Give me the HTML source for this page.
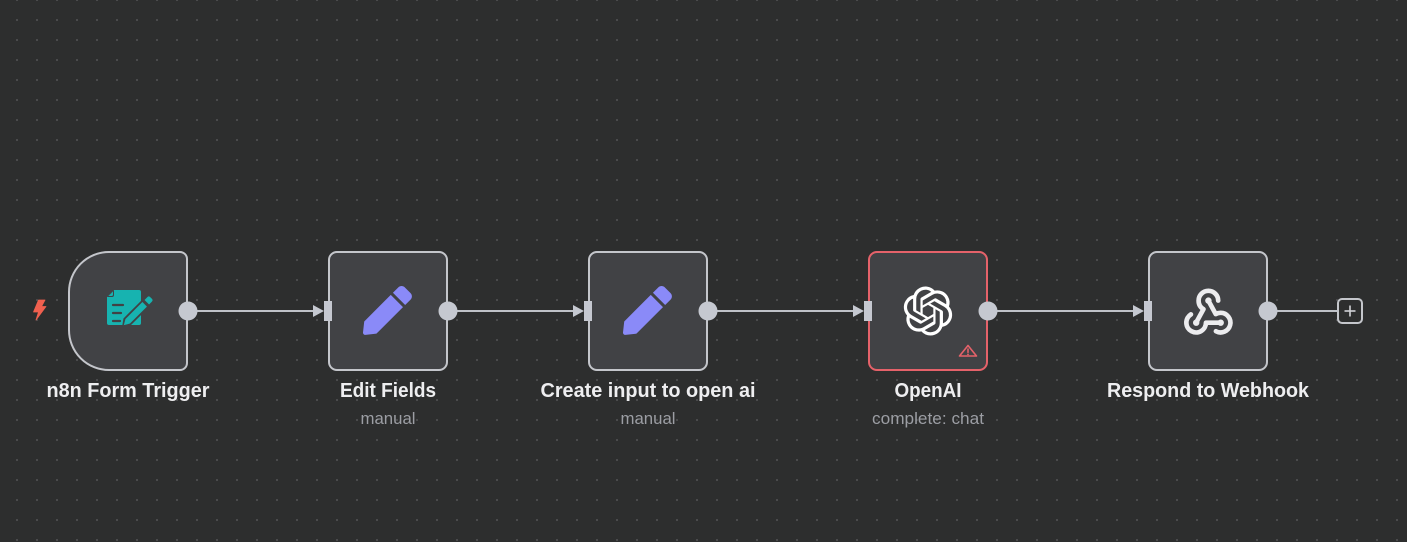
<!DOCTYPE html>
<html>
<head>
<meta charset="utf-8">
<style>
  html,body{margin:0;padding:0;background:#2d2e2e;}
  body{width:1407px;height:542px;overflow:hidden;}
  svg{display:block;}
  .t{font-family:"Liberation Sans",Arial,sans-serif;font-weight:bold;font-size:20px;fill:#eeeef0;}
  .s{font-family:"Liberation Sans",Arial,sans-serif;font-size:16.5px;fill:#9c9ea4;}
</style>
</head>
<body>
<svg width="1407" height="542" viewBox="0 0 1407 542" xmlns="http://www.w3.org/2000/svg">
  <defs>
    <pattern id="dots" x="7" y="-10" width="20" height="20" patternUnits="userSpaceOnUse">
      <circle cx="10" cy="10" r="0.9" fill="#5e5f61"/>
    </pattern>
  </defs>
  <rect width="1407" height="542" fill="#2d2e2e"/>
  <rect width="1407" height="542" fill="url(#dots)"/>

  <!-- connections -->
  <g stroke="#bfc2c8" stroke-width="2" fill="none">
    <line x1="188" y1="311" x2="315" y2="311"/>
    <line x1="448" y1="311" x2="575" y2="311"/>
    <line x1="708" y1="311" x2="855" y2="311"/>
    <line x1="988" y1="311" x2="1135" y2="311"/>
    <line x1="1268" y1="311" x2="1337" y2="311"/>
  </g>
  <g fill="#c5c8d0">
    <polygon points="313,305 324,311 313,317"/>
    <polygon points="573,305 584,311 573,317"/>
    <polygon points="853,305 864,311 853,317"/>
    <polygon points="1133,305 1144,311 1133,317"/>
  </g>

  <!-- nodes -->
  <path d="M109,252 H180 a7,7 0 0 1 7,7 V363 a7,7 0 0 1 -7,7 H109 a40,40 0 0 1 -40,-40 V292 a40,40 0 0 1 40,-40 Z" fill="#414245" stroke="#c4c6cb" stroke-width="2"/>
  <rect x="329" y="252" width="118" height="118" rx="8" fill="#414245" stroke="#c4c6cb" stroke-width="2"/>
  <rect x="589" y="252" width="118" height="118" rx="8" fill="#414245" stroke="#c4c6cb" stroke-width="2"/>
  <rect x="869" y="252" width="118" height="118" rx="8" fill="#414245" stroke="#e5626a" stroke-width="2"/>
  <rect x="1149" y="252" width="118" height="118" rx="8" fill="#414245" stroke="#c4c6cb" stroke-width="2"/>

  <!-- input handles -->
  <g fill="#c5c8d0">
    <rect x="324" y="301" width="8" height="20"/>
    <rect x="584" y="301" width="8" height="20"/>
    <rect x="864" y="301" width="8" height="20"/>
    <rect x="1144" y="301" width="8" height="20"/>
  </g>
  <!-- output handles -->
  <g fill="#c5c8d0">
    <circle cx="188" cy="311" r="9.5"/>
    <circle cx="448" cy="311" r="9.5"/>
    <circle cx="708" cy="311" r="9.5"/>
    <circle cx="988" cy="311" r="9.5"/>
    <circle cx="1268" cy="311" r="9.5"/>
  </g>

  <!-- plus button -->
  <rect x="1338" y="299" width="24" height="24" rx="4" fill="#2d2e2e" stroke="#c4c6cb" stroke-width="2"/>
  <line x1="1344.5" y1="311" x2="1355.5" y2="311" stroke="#d0d2d6" stroke-width="1.6"/>
  <line x1="1350" y1="305.5" x2="1350" y2="316.5" stroke="#d0d2d6" stroke-width="1.6"/>

  <!-- lightning -->
  <path d="M38.5,300 H45 L41.5,306.5 H46 L36,320 L38.5,312 H33.5 Z" fill="#f0604f" stroke="#f0604f" stroke-width="0.8" stroke-linejoin="round"/>

  <!-- form icon -->
  <g>
    <path d="M114,290 H139 a2,2 0 0 1 2,2 V323 a2,2 0 0 1 -2,2 H109 a2,2 0 0 1 -2,-2 V297 Z" fill="#17b3b0"/>
    <path d="M107,297 L114,290 V295 a2,2 0 0 1 -2,2 Z" fill="#414245"/>
    <path d="M108.5,296 L113,291.5 V294.5 a1.5,1.5 0 0 1 -1.5,1.5 Z" fill="#17b3b0"/>
    <g stroke="#414245" stroke-width="2.2" stroke-linecap="round">
      <line x1="113" y1="305" x2="123" y2="305"/>
      <line x1="113" y1="313" x2="121" y2="313"/>
      <line x1="113" y1="321" x2="120" y2="321"/>
    </g>
    <g transform="translate(127,322) rotate(-45)">
      <path d="M0,-5 H33 a3,3 0 0 1 3,3 V2 a3,3 0 0 1 -3,3 H0 L-7,0 Z" fill="#414245"/>
      <path d="M1,-3.2 H25 V3.2 H1 L-4.5,0 Z" fill="#17b3b0"/>
      <path d="M28,-3.2 H32 a2,2 0 0 1 2,2 V1.2 a2,2 0 0 1 -2,2 H28 Z" fill="#17b3b0"/>
    </g>
  </g>

  <!-- pencil icons -->
  <path transform="translate(363,286) scale(0.0955)" fill="#8a8af8" d="M290.74 93.24l128.02 128.02-277.99 277.99-114.14 12.6C11.35 513.54-1.56 500.62.14 485.34l12.7-114.22 277.9-277.88zm207.2-19.06l-60.11-60.11c-18.750-18.75-49.16-18.75-67.91 0l-56.55 56.55 128.02 128.02 56.55-56.55c18.75-18.76 18.75-49.160 0-67.91z"/>
  <path transform="translate(623,286) scale(0.0955)" fill="#8a8af8" d="M290.74 93.24l128.02 128.02-277.99 277.99-114.14 12.6C11.35 513.54-1.56 500.62.14 485.34l12.7-114.22 277.9-277.88zm207.2-19.06l-60.11-60.11c-18.75-18.75-49.16-18.75-67.91 0l-56.55 56.55 128.02 128.02 56.55-56.55c18.75-18.76 18.75-49.16 0-67.91z"/>

  <!-- OpenAI logo -->
  <path transform="translate(903.5,286.5) scale(2.04)" fill="#ffffff" d="M22.2819 9.8211a5.9847 5.9847 0 0 0-.5157-4.9108 6.0462 6.0462 0 0 0-6.5098-2.9A6.0651 6.0651 0 0 0 4.9807 4.1818a5.9847 5.9847 0 0 0-3.9977 2.9 6.0462 6.0462 0 0 0 .7427 7.0966 5.98 5.98 0 0 0 .511 4.9107 6.051 6.051 0 0 0 6.5146 2.9001A5.9847 5.9847 0 0 0 13.2599 24a6.0557 6.0557 0 0 0 5.7718-4.2058 5.9894 5.9894 0 0 0 3.9977-2.9001 6.0557 6.0557 0 0 0-.7475-7.0729zm-9.022 12.6081a4.4755 4.4755 0 0 1-2.8764-1.0408l.1419-.0804 4.7783-2.7582a.7948.7948 0 0 0 .3927-.6813v-6.7369l2.02 1.1686a.071.071 0 0 1 .038.052v5.5826a4.504 4.504 0 0 1-4.4945 4.4944zm-9.6607-4.1254a4.4708 4.4708 0 0 1-.5346-3.0137l.142.0852 4.783 2.7582a.7712.7712 0 0 0 .7806 0l5.8428-3.3685v2.3324a.0804.0804 0 0 1-.0332.0615L9.74 19.9502a4.4992 4.4992 0 0 1-6.1408-1.6464zM2.3408 7.8956a4.485 4.485 0 0 1 2.3655-1.9728V11.6a.7664.7664 0 0 0 .3879.6765l5.8144 3.3543-2.0201 1.1685a.0757.0757 0 0 1-.071 0l-4.8303-2.7865A4.504 4.504 0 0 1 2.3408 7.872zm16.5963 3.8558L13.1038 8.364 15.1192 7.2a.0757.0757 0 0 1 .071 0l4.8303 2.7913a4.4944 4.4944 0 0 1-.6765 8.1042v-5.6772a.79.79 0 0 0-.407-.667zm2.0107-3.0231l-.142-.0852-4.7735-2.7818a.7759.7759 0 0 0-.7854 0L9.409 9.2297V6.8974a.0662.0662 0 0 1 .0284-.0615l4.8303-2.7866a4.4992 4.4992 0 0 1 6.6802 4.66zM8.3065 12.863l-2.02-1.1638a.0804.0804 0 0 1-.038-.0567V6.0742a4.4992 4.4992 0 0 1 7.3757-3.4537l-.142.0805L8.704 5.459a.7948.7948 0 0 0-.3927.6813zm1.0976-2.3654l2.602-1.4998 2.6069 1.4998v2.9994l-2.5974 1.4997-2.6067-1.4997Z"/>

  <!-- warning triangle -->
  <path d="M968,345.5 L976.5,356 H959.5 Z" fill="none" stroke="#e5626a" stroke-width="1.6" stroke-linejoin="round"/>
  <line x1="968" y1="349" x2="968" y2="352.3" stroke="#e5626a" stroke-width="1.6" stroke-linecap="round"/>
  <circle cx="968" cy="354.4" r="0.9" fill="#e5626a"/>

  <!-- webhook icon -->
  <g transform="translate(1179,281) scale(2.45)" fill="none" stroke="#ececee" stroke-width="1.9" stroke-linecap="round" stroke-linejoin="round">
    <path d="M4.876 13.61a4 4 0 1 0 6.124 3.39h6"/>
    <path d="M15.066 20.502a4 4 0 1 0 1.934 -7.502c-.706 0 -1.424 .179 -2 .5l-3 -5.5"/>
    <path d="M16 8a4 4 0 1 0 -8 0c0 1.506 .77 2.818 2 3.5l-3 5.5"/>
  </g>
  <g fill="#ececee">
    <circle cx="1220.7" cy="322.7" r="3.2"/>
    <circle cx="1208.4" cy="300.6" r="3.2"/>
    <circle cx="1196.2" cy="322.7" r="3.2"/>
  </g>

  <!-- labels -->
  <text class="t" x="128" y="397" text-anchor="middle" textLength="163" lengthAdjust="spacingAndGlyphs">n8n Form Trigger</text>
  <text class="t" x="388" y="397" text-anchor="middle" textLength="96" lengthAdjust="spacingAndGlyphs">Edit Fields</text>
  <text class="s" x="388" y="424" text-anchor="middle" textLength="55" lengthAdjust="spacingAndGlyphs">manual</text>
  <text class="t" x="648" y="397" text-anchor="middle" textLength="215" lengthAdjust="spacingAndGlyphs">Create input to open ai</text>
  <text class="s" x="648" y="424" text-anchor="middle" textLength="55" lengthAdjust="spacingAndGlyphs">manual</text>
  <text class="t" x="928" y="397" text-anchor="middle" textLength="67" lengthAdjust="spacingAndGlyphs">OpenAI</text>
  <text class="s" x="928" y="424" text-anchor="middle" textLength="112" lengthAdjust="spacingAndGlyphs">complete: chat</text>
  <text class="t" x="1208" y="397" text-anchor="middle" textLength="202" lengthAdjust="spacingAndGlyphs">Respond to Webhook</text>
</svg>
</body>
</html>
